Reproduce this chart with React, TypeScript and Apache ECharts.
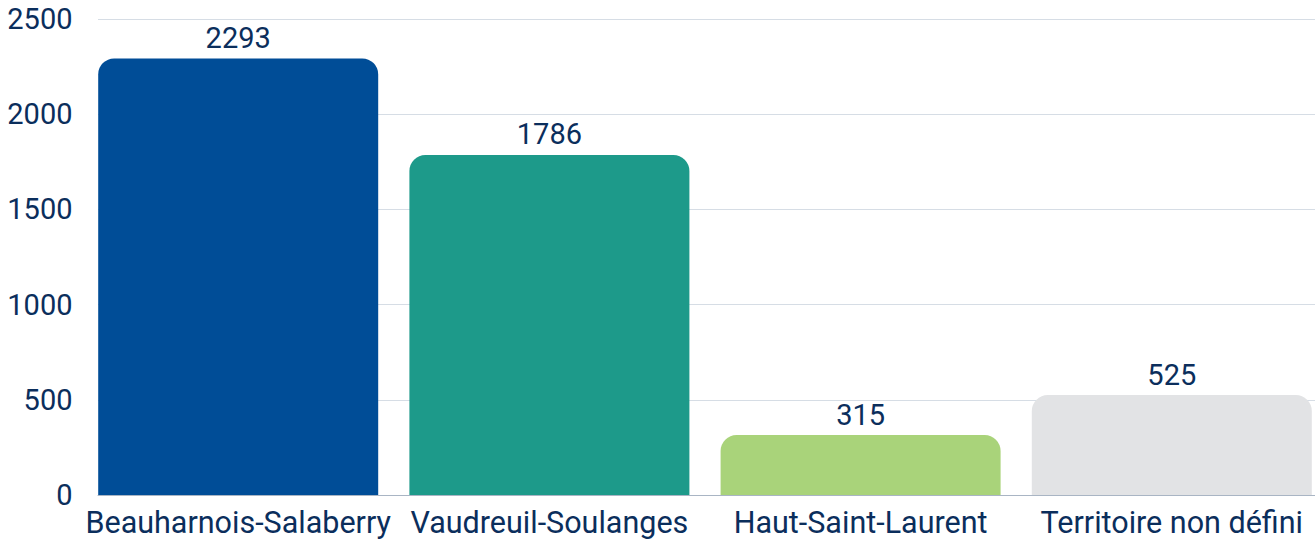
import React, { useEffect, useRef } from "react";
import * as echarts from "echarts";

const categories = ["Beauharnois-Salaberry", "Vaudreuil-Soulanges", "Haut-Saint-Laurent", "Territoire non défini"];
const values = [2293, 1786, 315, 525];
const barColors = ["#004D97", "#1D9A8A", "#A9D37A", "#E2E3E5"];
const yTicks = { min: 0, max: 2500, interval: 500 };

const TEXT = "#0B2E5C";
const FONT = "Roboto";

export default function App() {
  const ref = useRef<HTMLDivElement>(null);
  useEffect(() => {
    if (!ref.current) return;
    const chart = echarts.init(ref.current, null, { renderer: "svg" });
    chart.setOption({
      animation: false,
      backgroundColor: "#ffffff",
      grid: [
        { left: 98, top: 19, width: 1242, bottom: 49, containLabel: false },
        { left: 82.6, top: 19, width: 1244.8, bottom: 49, containLabel: false },
      ],
      xAxis: [
        {
          type: "category",
          gridIndex: 0,
          data: categories,
          axisTick: { show: false },
          axisLabel: { show: false },
          axisLine: { show: true, lineStyle: { color: "#A9B5C4", width: 1 } },
        },
        {
          type: "category",
          gridIndex: 1,
          data: categories,
          axisTick: { show: false },
          axisLine: { show: false },
          axisLabel: { color: TEXT, fontFamily: FONT, fontSize: 30.5, margin: 12, interval: 0 },
        },
      ],
      yAxis: [
        {
          type: "value",
          gridIndex: 0,
          min: yTicks.min,
          max: yTicks.max,
          interval: yTicks.interval,
          axisLine: { show: false },
          axisTick: { show: false },
          splitLine: { lineStyle: { color: "#D6DDE5", width: 1 } },
          axisLabel: {
            color: TEXT,
            fontFamily: FONT,
            fontSize: 29,
            margin: 25.5,
            formatter: (v: number) => String(v),
          },
        },
        {
          type: "value",
          gridIndex: 1,
          min: yTicks.min,
          max: yTicks.max,
          interval: yTicks.interval,
          show: false,
          splitLine: { show: false },
        },
      ],
      series: [
        {
          type: "bar",
          xAxisIndex: 1,
          yAxisIndex: 1,
          barWidth: 280,
          data: values.map((v, i) => ({ value: v, itemStyle: { color: barColors[i] } })),
          itemStyle: { borderRadius: [16, 16, 0, 0] },
          label: {
            show: true,
            position: "top",
            distance: 6,
            color: TEXT,
            fontFamily: FONT,
            fontSize: 29,
          },
        },
      ],
    });
    return () => chart.dispose();
  }, []);
  return (
    <div style={{ position: "absolute", left: 0, top: 0, width: 1315, height: 544, overflow: "hidden" }}>
      <div ref={ref} style={{ width: 1340, height: 544 }} />
    </div>
  );
}
